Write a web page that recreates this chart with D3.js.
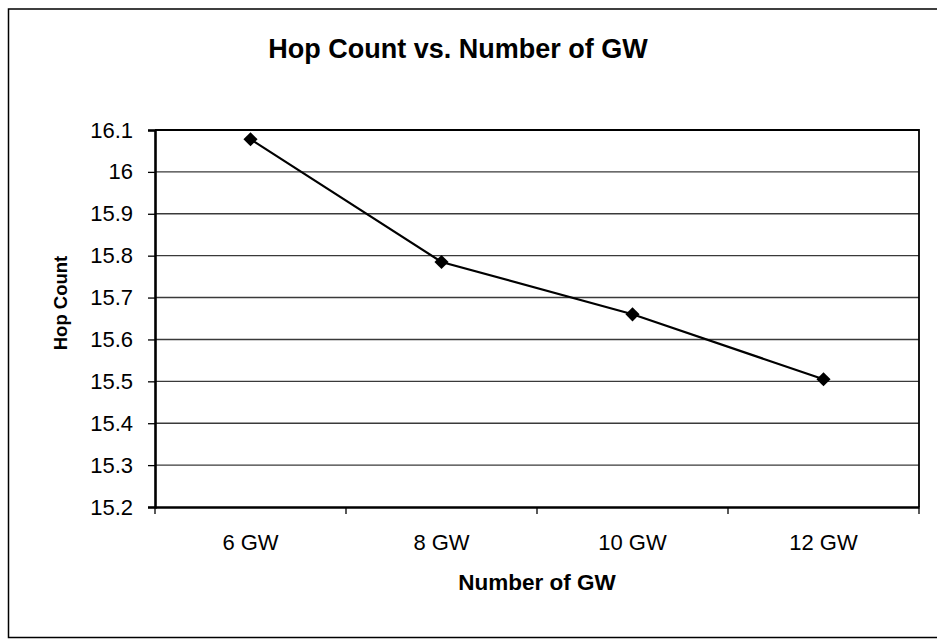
<!DOCTYPE html>
<html lang="en">
<head>
    <meta charset="UTF-8">
    <title>Hop Count vs. Number of GW</title>
    <script src="https://cdnjs.cloudflare.com/ajax/libs/d3/7.8.5/d3.min.js"></script>
    <style>
        body {
            margin: 0;
            background: #fff;
            font-family: "Liberation Sans", Arial, sans-serif;
        }
        .grid line {
            stroke: #3a3a3a;
            stroke-width: 1.4;
        }
    </style>
</head>
<body>
    <div id="chart"></div>
    <script>
        // Data
        const categories = ["6 GW", "8 GW", "10 GW", "12 GW"];
        const hopCount = [16.078, 15.785, 15.66, 15.505];
        const yTicks = [15.2, 15.3, 15.4, 15.5, 15.6, 15.7, 15.8, 15.9, 16, 16.1];

        const width = 937;
        const height = 639;
        const plot = { left: 155, top: 130, right: 919, bottom: 507 };

        const svg = d3.select("#chart")
            .append("svg")
            .attr("width", width)
            .attr("height", height);

        // outer frame (runs off the right edge like the scan)
        svg.append("rect")
            .attr("x", 8.5)
            .attr("y", 9)
            .attr("width", 960)
            .attr("height", 628.5)
            .attr("fill", "none")
            .attr("stroke", "#000")
            .attr("stroke-width", 1.5);

        const x = d3.scaleBand()
            .domain(categories)
            .range([plot.left, plot.right]);

        const y = d3.scaleLinear()
            .domain([15.2, 16.1])
            .range([plot.bottom, plot.top]);

        // horizontal gridlines
        svg.append("g")
            .attr("class", "grid")
            .selectAll("line")
            .data(yTicks.slice(1, -1))
            .enter()
            .append("line")
            .attr("x1", plot.left)
            .attr("x2", plot.right)
            .attr("y1", d => y(d))
            .attr("y2", d => y(d));

        // top and right border of plot area
        svg.append("path")
            .attr("d", `M${plot.left},${plot.top}H${plot.right}V${plot.bottom}`)
            .attr("fill", "none")
            .attr("stroke", "#000")
            .attr("stroke-width", 1.8);

        // y axis
        const yAxis = svg.append("g")
            .attr("transform", `translate(${plot.left},0)`)
            .call(d3.axisLeft(y).tickValues(yTicks).tickSize(7).tickPadding(15).tickFormat(d3.format("")));
        yAxis.select(".domain").attr("stroke-width", 2.6);
        yAxis.selectAll(".tick line").attr("stroke-width", 1.3);
        yAxis.selectAll(".tick text")
            .attr("font-family", "Liberation Sans, Arial, sans-serif")
            .attr("font-size", 22)
            .attr("fill", "#000");

        // x axis, ticks sit on band edges
        const xAxis = svg.append("g")
            .attr("transform", `translate(0,${plot.bottom})`)
            .call(d3.axisBottom(x).tickSize(0).tickPadding(27));
        xAxis.select(".domain").attr("stroke-width", 2.6);
        xAxis.selectAll(".tick text")
            .attr("font-family", "Liberation Sans, Arial, sans-serif")
            .attr("font-size", 22)
            .attr("fill", "#000");
        xAxis.selectAll(".edge")
            .data(d3.range(categories.length + 1))
            .enter()
            .append("line")
            .attr("class", "edge")
            .attr("x1", i => plot.left + i * x.step())
            .attr("x2", i => plot.left + i * x.step())
            .attr("y1", 0)
            .attr("y2", 7)
            .attr("stroke", "#000")
            .attr("stroke-width", 1.3);

        // series line
        const line = d3.line()
            .x((d, i) => x(categories[i]) + x.bandwidth() / 2)
            .y(d => y(d));

        svg.append("path")
            .datum(hopCount)
            .attr("d", line)
            .attr("fill", "none")
            .attr("stroke", "#000")
            .attr("stroke-width", 2.2);

        // diamond markers
        svg.selectAll(".marker")
            .data(hopCount)
            .enter()
            .append("path")
            .attr("class", "marker")
            .attr("d", d3.symbol().type(d3.symbolSquare).size(100))
            .attr("transform", (d, i) => `translate(${x(categories[i]) + x.bandwidth() / 2},${y(d)}) rotate(45)`)
            .attr("fill", "#000");

        // titles
        svg.append("text")
            .attr("x", 458)
            .attr("y", 58)
            .attr("text-anchor", "middle")
            .attr("font-size", 27)
            .attr("font-weight", "bold")
            .text("Hop Count vs. Number of GW");

        svg.append("text")
            .attr("x", (plot.left + plot.right) / 2)
            .attr("y", 590)
            .attr("text-anchor", "middle")
            .attr("font-size", 22.5)
            .attr("font-weight", "bold")
            .text("Number of GW");

        svg.append("text")
            .attr("transform", "translate(67,303) rotate(-90)")
            .attr("text-anchor", "middle")
            .attr("font-size", 18.5)
            .attr("font-weight", "bold")
            .text("Hop Count");
    </script>
</body>
</html>
